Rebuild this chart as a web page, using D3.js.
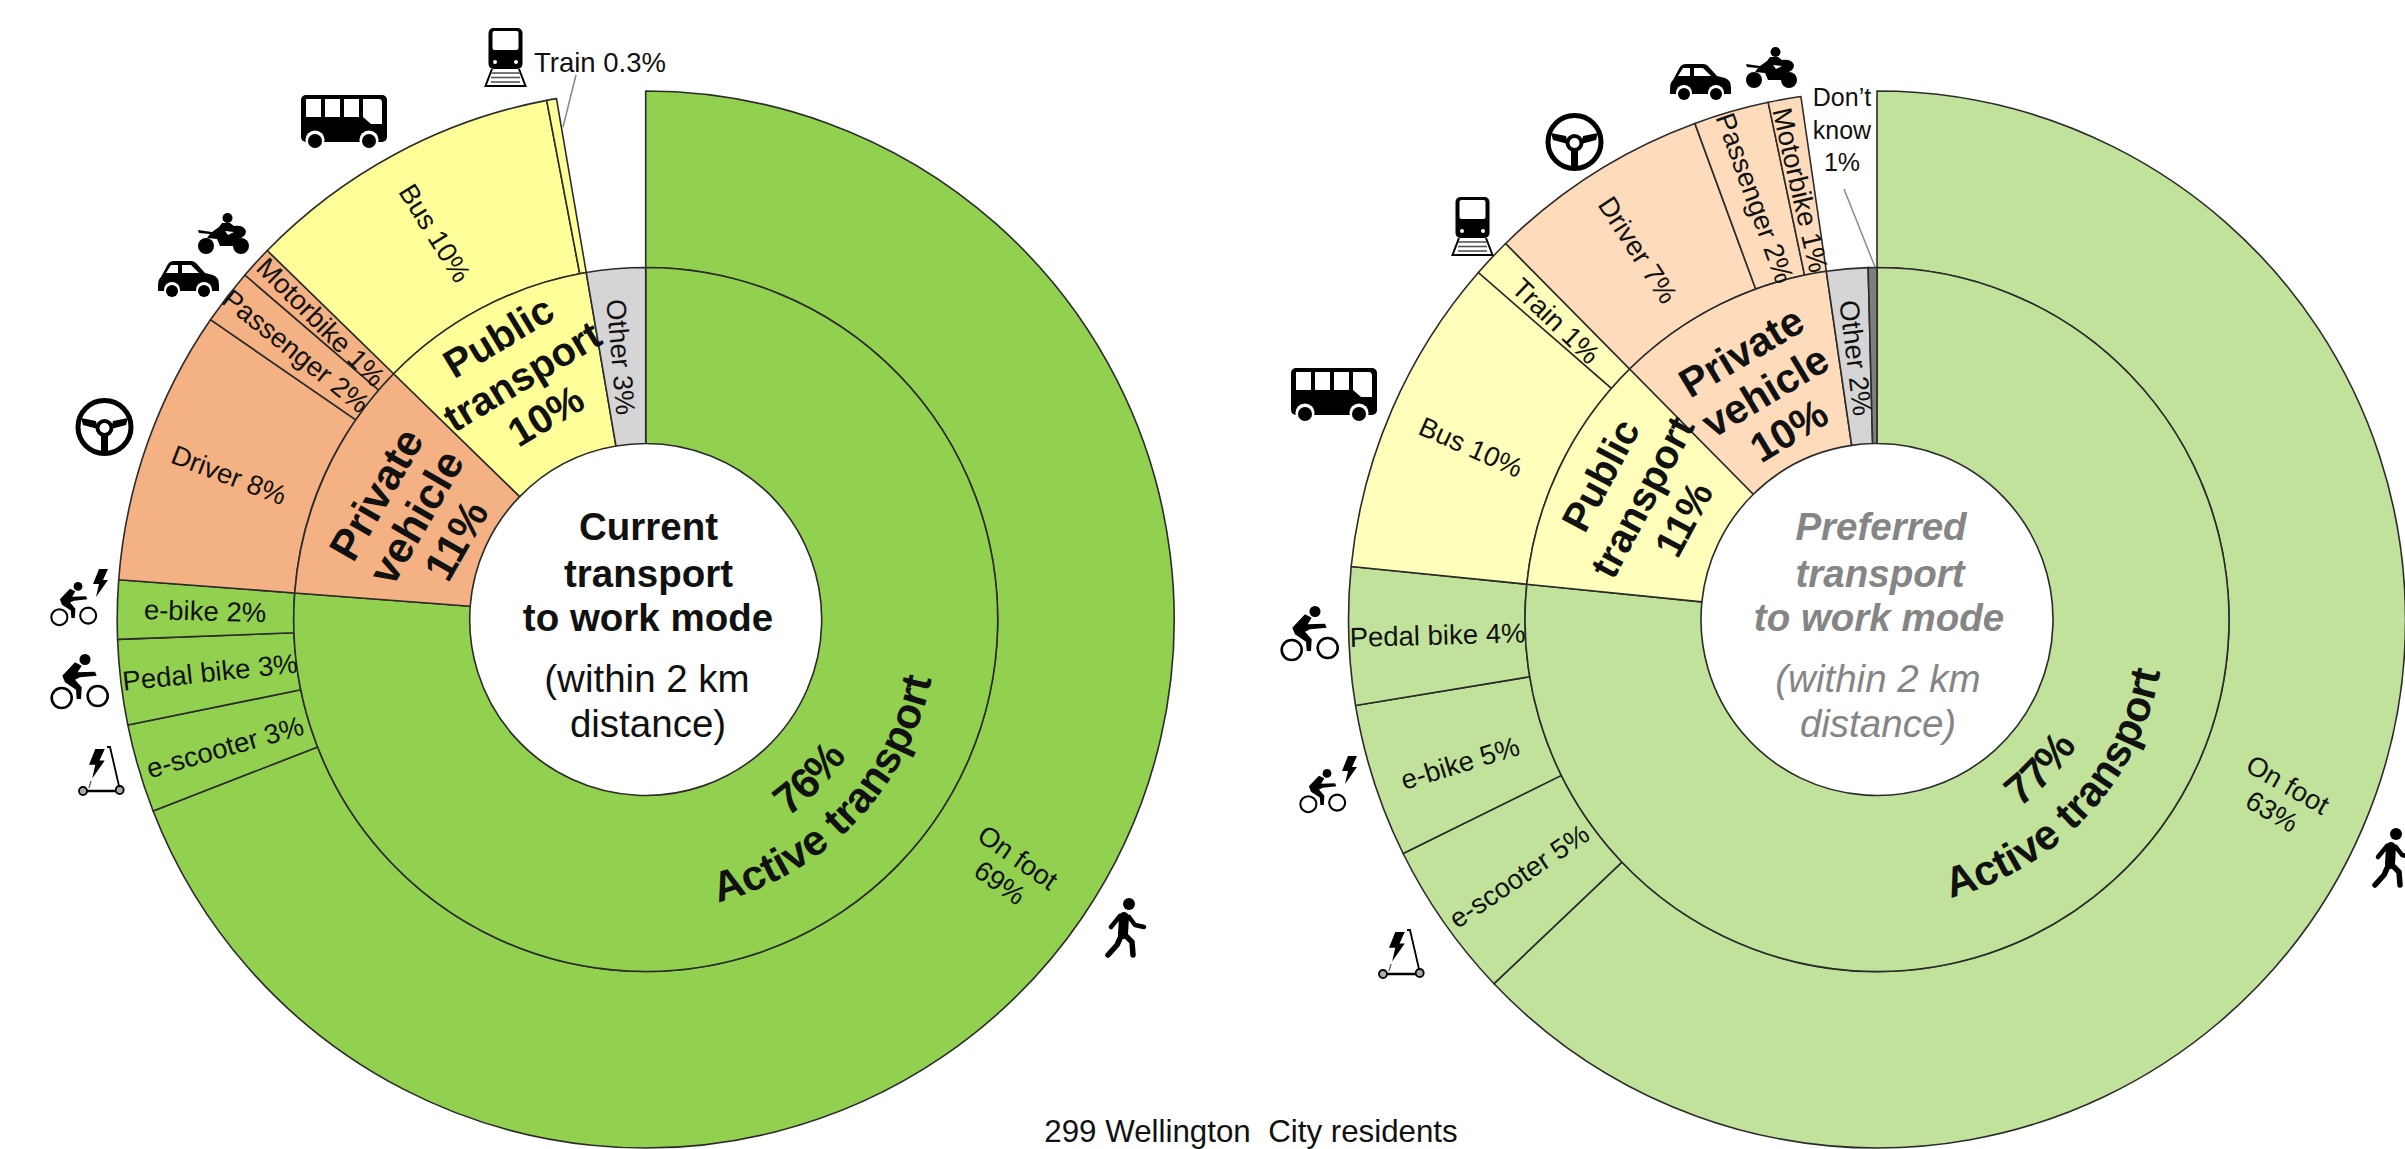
<!DOCTYPE html>
<html>
<head>
<meta charset="utf-8">
<script src="https://cdn.jsdelivr.net/npm/d3@7/dist/d3.min.js"></script>
<style>
html,body{margin:0;padding:0;background:#fff;overflow:hidden}
svg{display:block}
text{font-family:"Liberation Sans",Arial,sans-serif;fill:#111}
</style>
</head>
<body>
<svg id="chart" width="2405" height="1149" viewBox="0 0 2405 1149"></svg>
<script>
// ---------- DATA (shares of respondents, %) ----------
const currentInnerNames  = ["Active transport","Private vehicle","Public transport","Other"];
const currentInnerGroups = ["active","private","public","other"];
const currentInnerValues = [76.2,11.1,10.0,2.7];

const currentOuterNames  = ["On foot","e-scooter","Pedal bike","e-bike","Driver","Passenger","Motorbike","Bus","Train","(none)"];
const currentOuterGroups = ["active","active","active","active","private","private","private","public","public","blank"];
const currentOuterValues = [69.1,2.7,2.6,1.8,8.4,1.7,1.0,9.7,0.3,2.7];

const preferredInnerNames  = ["Active transport","Public transport","Private vehicle","Other","Don't know"];
const preferredInnerGroups = ["active","public","private","other","unknown"];
const preferredInnerValues = [76.6,11.0,10.1,1.9,0.4];

const preferredOuterNames  = ["On foot","e-scooter","e-bike","Pedal bike","Bus","Train","Driver","Passenger","Motorbike","(none)"];
const preferredOuterGroups = ["active","active","active","active","public","public","private","private","private","blank"];
const preferredOuterValues = [62.9,4.8,4.7,4.2,9.8,1.2,6.8,2.3,1.0,2.3];

const footerText = "299 Wellington  City residents";

// ---------- STYLE / LAYOUT ----------
const groupKeys = ["active","private","public","other","unknown","blank"];
const currentColor   = d3.scaleOrdinal(groupKeys,["#92D050","#F4B183","#FFFF99","#D5D5D5","#7F7F7F","none"]);
const preferredColor = d3.scaleOrdinal(groupKeys,["#C1E29B","#FDDBBB","#FFFFBB","#D5D5D5","#7F7F7F","none"]);
const radii = {hole:176, mid:352, outer:528.5};
const centres = {current:[645.7,619.5], preferred:[1877,619.5]};
const LINE = "#2b2b2b";
const svg = d3.select("#chart");
svg.append("rect").attr("width",2405).attr("height",1149).attr("fill","#fff");

const pie = d3.pie().sort(null).value(d=>d.value);
function ring(g,names,groups,values,r0,r1,color){
  const rows = names.map((n,i)=>({name:n,group:groups[i],value:values[i]}));
  const arc = d3.arc().innerRadius(r0).outerRadius(r1);
  g.append("g").selectAll("path")
    .data(pie(rows).filter(d=>d.data.group!=="blank"))
    .join("path")
    .attr("d",arc)
    .attr("fill",d=>color(d.data.group))
    .attr("stroke",LINE).attr("stroke-width",1.6).attr("stroke-linejoin","round");
}
function sunburst(key,inner,outer,color){
  const [cx,cy]=centres[key];
  const g=svg.append("g").attr("transform",`translate(${cx},${cy})`);
  ring(g,outer[0],outer[1],outer[2],radii.mid,radii.outer,color);
  ring(g,inner[0],inner[1],inner[2],radii.hole,radii.mid,color);
}
sunburst("current",[currentInnerNames,currentInnerGroups,currentInnerValues],
  [currentOuterNames,currentOuterGroups,currentOuterValues],currentColor);
sunburst("preferred",[preferredInnerNames,preferredInnerGroups,preferredInnerValues],
  [preferredOuterNames,preferredOuterGroups,preferredOuterValues],preferredColor);

// ---------- LEADER LINES ----------
const leaders=[[576,75,563,127],[1844,189,1875,267]];
svg.append("g").selectAll("line").data(leaders).join("line")
  .attr("x1",d=>d[0]).attr("y1",d=>d[1]).attr("x2",d=>d[2]).attr("y2",d=>d[3])
  .attr("stroke","#8a8a8a").attr("stroke-width",1.5);

// ---------- LABELS ----------
const regular=[
 {t:["Bus 10%"],x:435,y:233,r:58},
 {t:["Motorbike 1%"],x:321,y:322,r:45},
 {t:["Passenger 2%"],x:296,y:351,r:38.7},
 {t:["Driver 8%"],x:229,y:475,r:21},
 {t:["e-bike 2%"],x:205,y:611,r:1.5},
 {t:["Pedal bike 3%"],x:210,y:672,r:-6},
 {t:["e-scooter 3%"],x:225,y:747,r:-16},
 {t:["On foot","69%"],x:1009,y:870,r:35},
 {t:["Other 3%"],x:621,y:357,r:85},
 {t:["Train 0.3%"],x:600,y:62,r:0},
 {t:["Motorbike 1%"],x:1800.5,y:190,r:77},
 {t:["Passenger 2%"],x:1755,y:198,r:70},
 {t:["Driver 7%"],x:1638,y:250,r:57},
 {t:["Train 1%"],x:1556,y:321,r:44},
 {t:["Bus 10%"],x:1471,y:447,r:24},
 {t:["Other 2%"],x:1856,y:358,r:83},
 {t:["Pedal bike 4%"],x:1437.5,y:635,r:-1.5},
 {t:["e-bike 5%"],x:1460,y:763,r:-17},
 {t:["e-scooter 5%"],x:1519,y:876,r:-34},
 {t:["On foot","63%"],x:2280,y:798,r:30}
];
const bold=[
 {t:["Private","vehicle","11%"],x:416,y:517,r:-60,size:43,lh:46},
 {t:["Public","transport","10%"],x:522,y:376,r:-31,size:40,lh:46},
 {t:["Private","vehicle","10%"],x:1765,y:391,r:-31,size:41,lh:46},
 {t:["Public","transport","11%"],x:1642,y:497,r:-62,size:40,lh:47}
];
function place(sel,size,lh,weight){
  sel.each(function(d){
    const fs=d.size||size, step=d.lh||lh;
    const g=d3.select(this).append("text")
      .attr("transform",`translate(${d.x},${d.y}) rotate(${d.r})`)
      .attr("text-anchor","middle").attr("font-size",fs).attr("font-weight",weight);
    d.t.forEach((line,i)=>{
      g.append("tspan").attr("x",0)
       .attr("y",(i-(d.t.length-1)/2)*step+fs*0.35).text(line);
    });
  });
}
svg.append("g").selectAll("g").data(regular).join("g").call(place,27.5,31,"normal");
svg.append("g").selectAll("g").data(bold).join("g").call(place,40,49,"bold");

// Don't know label
const dk=svg.append("text").attr("text-anchor","middle").attr("font-size",25);
["Don\u2019t","know","1%"].forEach((s,i)=>dk.append("tspan").attr("x",1842).attr("y",106+i*32.5).text(s));

// Curved "Active transport" labels
const defs=svg.append("defs");
function curved(id,key,r,midDeg,text){
  const [cx,cy]=centres[key];
  const rad=Math.PI/180;
  const p=d3.path();
  p.arc(cx,cy,r,(90-(midDeg-70))*rad,(90-(midDeg+70))*rad,true);
  defs.append("path").attr("id",id).attr("d",p.toString());
  svg.append("text").attr("font-size",42.5).attr("font-weight","bold").attr("text-anchor","middle")
    .append("textPath").attr("href","#"+id).attr("startOffset","50%").text(text);
}
curved("pc1","current",292,46.3,"Active transport");
curved("pc2","current",243,45.8,"76%");
curved("pp1","preferred",288,47.2,"Active transport");
curved("pp2","preferred",236,47.5,"77%");

// Centre titles
const titleBase=[540,587,631,692,737];
const cur=[["Current",648.5],["transport",648.5],["to work mode",648],["(within  2 km",647],["distance)",648]];
const pre=[["Preferred",1881],["transport",1880],["to work mode",1879],["(within 2 km",1878],["distance)",1878]];
cur.forEach((d,i)=>svg.append("text").attr("x",d[1]).attr("y",titleBase[i]).attr("text-anchor","middle")
  .attr("font-size",38.5).attr("font-weight",i<3?"bold":"normal").text(d[0]));
pre.forEach((d,i)=>svg.append("text").attr("x",d[1]).attr("y",titleBase[i]).attr("text-anchor","middle")
  .attr("font-size",38.5).attr("font-weight",i<3?"bold":"normal").attr("font-style","italic")
  .style("fill","#858585").text(d[0]));

// Footer
svg.append("text").attr("x",1251).attr("y",1142).attr("text-anchor","middle").attr("font-size",31.3).style("white-space","pre").text(footerText);

// ---------- ICONS ----------
const bolt=(g,x,y,s)=>g.append("path").attr("transform",`translate(${x},${y}) scale(${s})`)
  .attr("d","M6 0H15L10 11H15L3 28L6 15H0Z").attr("fill","#000");
const icons={
 bus(g){
  g.append("rect").attr("width",86).attr("height",47).attr("rx",5).attr("fill","#000");
  [[5,4,15,18],[24,4,15,18],[43,4,15,18]].forEach(w=>g.append("rect").attr("x",w[0]).attr("y",w[1]).attr("width",w[2]).attr("height",w[3]).attr("fill","#fff"));
  g.append("path").attr("d","M62 4H78Q81 4 81 8V29H70L62 22Z").attr("fill","#fff");
  [14,68].forEach(x=>{g.append("circle").attr("cx",x).attr("cy",45).attr("r",9.6).attr("fill","#fff");
    g.append("circle").attr("cx",x).attr("cy",46).attr("r",7).attr("fill","#000");});
 },
 car(g){
  g.append("path").attr("d","M0 27Q0 19 3 17L10 4Q12 1 16 1H33Q36 1 38 3L47 13L55 15Q61 17 61 25V31H0Z").attr("fill","#000");
  g.append("path").attr("d","M8 13L13 5H20V13ZM24 5H33L41 13H24Z").attr("fill","#fff");
  [14,46].forEach(x=>{g.append("circle").attr("cx",x).attr("cy",30).attr("r",8).attr("fill","#fff");
    g.append("circle").attr("cx",x).attr("cy",31).attr("r",6).attr("fill","#000");});
 },
 moto(g){
  g.append("path").attr("d","M0 17L14 19L21 14L24 10H32L36 13Q46 12 48 18Q48 24 40 26L35 33H22L19 26L9 25L12 21L1 20Z").attr("fill","#000");
  g.append("path").attr("d","M27 18L36 19L30 22Z").attr("fill","#fff");
  g.append("circle").attr("cx",29.5).attr("cy",5).attr("r",5).attr("fill","#000");
  [8,43].forEach(x=>g.append("circle").attr("cx",x).attr("cy",33).attr("r",8).attr("fill","#000"));
 },
 train(g){
  g.append("rect").attr("x",3.5).attr("y",0).attr("width",34).attr("height",41).attr("rx",5).attr("fill","#000");
  g.append("rect").attr("x",7.5).attr("y",3).attr("width",26).attr("height",19).attr("rx",2).attr("fill","#fff");
  [10,31].forEach(x=>g.append("circle").attr("cx",x).attr("cy",34).attr("r",2).attr("fill","#fff"));
  g.append("path").attr("d","M7 41L0.5 58H40.5L34 41").attr("fill","none").attr("stroke","#000").attr("stroke-width",2);
  [45,49.5,54].forEach(y=>g.append("line").attr("x1",6).attr("x2",35).attr("y1",y).attr("y2",y).attr("stroke","#555").attr("stroke-width",1.6));
  g.append("line").attr("x1",0).attr("x2",41).attr("y1",58).attr("y2",58).attr("stroke","#000").attr("stroke-width",2);
 },
 wheel(g){
  g.append("circle").attr("cx",29.5).attr("cy",29).attr("r",26.5).attr("fill","none").attr("stroke","#000").attr("stroke-width",5);
  g.append("path").attr("d","M6 20L21 23L23 31L8 27ZM53 20L38 23L36 31L51 27ZM26 38H33V54H26Z").attr("fill","#000");
  g.append("circle").attr("cx",29.5).attr("cy",30).attr("r",7).attr("fill","#fff").attr("stroke","#000").attr("stroke-width",4);
 },
 bike(g){
  [[11.7,44],[47.7,42]].forEach(c=>g.append("circle").attr("cx",c[0]).attr("cy",c[1]).attr("r",10).attr("fill","#fff").attr("stroke","#000").attr("stroke-width",2.6));
  g.append("circle").attr("cx",35).attr("cy",5.5).attr("r",5.5).attr("fill","#000");
  g.append("path").attr("d","M12.3 21.7L25 8.3L31.7 11.7L27.7 18.3L45 17.7L46.7 21.7L30 23.3L25 25.7L31.7 33.3L31 45H26.7L26 35.7L15 28.3Z").attr("fill","#000");
 },
 ebike(g){
  bolt(g,43,0,1);
  const b=g.append("g").attr("transform","translate(0,13) scale(0.8)");
  icons.bike(b);
 },
 scooter(g){
  bolt(g,11,3,1.05);
  g.append("path").attr("d","M29 1H32L41.7 43").attr("fill","none").attr("stroke","#000").attr("stroke-width",1.8);
  g.append("path").attr("d","M5 45H41.7").attr("stroke","#000").attr("stroke-width",2.4);
  g.append("path").attr("d","M13 35L11 42").attr("stroke","#555").attr("stroke-width",1.2);
  [[5,45],[41.7,44]].forEach(c=>g.append("circle").attr("cx",c[0]).attr("cy",c[1]).attr("r",4).attr("fill","#aaa").attr("stroke","#000").attr("stroke-width",1.8));
 },
 walker(g){
  g.append("circle").attr("cx",23).attr("cy",6).attr("r",6).attr("fill","#000");
  const st=(d,w)=>g.append("path").attr("d",d).attr("fill","none").attr("stroke","#000").attr("stroke-width",w).attr("stroke-linejoin","round").attr("stroke-linecap","round");
  st("M18 19L17 36",10);
  st("M14 18L5 29",4.5);
  st("M23 19L29 27L38 29",4.5);
  st("M16 36L11 47L2 57",5.5);
  st("M19 37L26 44L27 57",5.5);
 }
};
const placements=[
 ["train",485,28],["bus",301,95],["moto",198,213],["car",158,260],["wheel",75,398],
 ["ebike",50,569],["bike",50,654],["scooter",78,746],["walker",1106,898],
 ["moto",1746,47],["car",1670,63],["wheel",1545,113],["train",1452,197],["bus",1291,368],
 ["bike",1280,606],["ebike",1299,756],["scooter",1378,929],["walker",2373,828]
];
const iconLayer=svg.append("g");
placements.forEach(p=>{
  icons[p[0]](iconLayer.append("g").attr("transform",`translate(${p[1]},${p[2]})`));
});
</script>
</body>
</html>
